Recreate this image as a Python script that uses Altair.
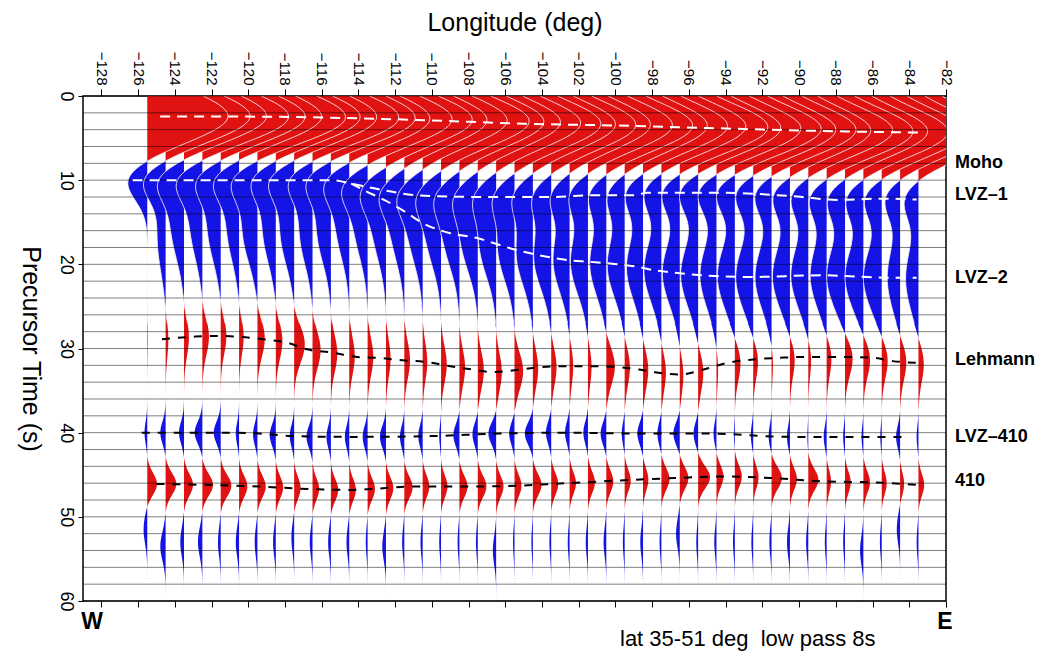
import altair as alt
import numpy as np
import pandas as pd

FONT = "Liberation Sans"
RED = "#e01212"
BLUE = "#1414e6"

# ---- trace longitudes (one wiggle per degree) ----
trace_lon = [-125.5, -124.5, -123.5, -122.5, -121.5, -120.5, -119.5, -118.5, -117.5, -116.5,
             -115.5, -114.5, -113.5, -112.5, -111.5, -110.5, -109.5, -108.5, -107.5, -106.5,
             -105.5, -104.5, -103.5, -102.5, -101.5, -100.5, -99.5, -98.5, -97.5, -96.5,
             -95.5, -94.5, -93.5, -92.5, -91.5, -90.5, -89.5, -88.5, -87.5, -86.5,
             -85.5, -84.5, -83.5]

# ---- per-trace arrivals (s) and amplitudes (deg of offset) ----
moho_t = [2.4, 2.4, 2.4, 2.45, 2.45, 2.45, 2.5, 2.5, 2.5, 2.55, 2.6, 2.7, 2.75, 2.8, 2.85,
          2.9, 3.0, 3.05, 3.1, 3.2, 3.3, 3.35, 3.4, 3.4, 3.45, 3.5, 3.5, 3.55, 3.6, 3.7,
          3.8, 3.85, 3.9, 4.0, 4.0, 4.1, 4.1, 4.2, 4.2, 4.25, 4.3, 4.3, 4.35]
moho_a = [4.4, 4.6, 4.5, 4.7, 4.6, 4.5, 4.8, 4.6, 4.5, 4.7, 4.6, 4.4, 4.6, 4.7, 4.5,
          4.6, 4.8, 4.6, 4.5, 4.6, 4.7, 4.5, 4.6, 4.4, 4.6, 4.7, 4.5, 4.6, 4.6, 4.8,
          4.5, 4.6, 4.7, 4.5, 4.6, 4.4, 4.6, 4.7, 4.5, 4.6, 4.5, 4.4, 4.3]

lvz1_t = [10.0, 10.0, 10.0, 10.0, 10.0, 10.0, 10.0, 10.0, 10.0, 10.0, 10.0, 10.3, 10.8, 11.3, 11.6,
          11.8, 11.9, 12.0, 12.0, 12.0, 12.0, 12.0, 12.0, 11.9, 11.8, 11.8, 11.8, 11.6, 11.5, 11.5,
          11.5, 11.5, 11.5, 11.6, 11.7, 11.9, 12.0, 12.2, 12.3, 12.3, 12.2, 12.2, 12.3]
lvz1_a = [-1.15, -1.2, -1.25, -1.25, -1.2, -1.25, -1.25, -1.2, -1.25, -1.2, -1.2, -1.15, -1.1, -1.05, -1.0,
          -1.0, -0.95, -0.95, -0.95, -0.95, -0.95, -0.95, -0.9, -0.95, -0.95, -0.9, -0.9, -0.95, -0.95, -1.0,
          -1.05, -1.05, -1.05, -1.0, -0.95, -0.95, -0.95, -0.95, -0.95, -0.95, -0.95, -0.85, -0.8]

lvz2_t = [15.5, 17.0, 15.5, 15.5, 15.8, 15.8, 16.0, 16.0, 16.2, 16.2, 16.0, 15.5, 15.5, 15.8, 16.0,
          16.2, 16.4, 16.6, 17.0, 17.6, 18.1, 18.7, 19.1, 19.5, 19.7, 19.9, 20.1, 20.4, 20.7, 21.0,
          21.2, 21.3, 21.4, 21.5, 21.5, 21.4, 21.3, 21.3, 21.4, 21.5, 21.6, 21.6, 21.7]
lvz2_a = [0.0, -0.45, -0.7, -0.65, -0.7, -0.65, -0.8, -0.7, -0.75, -0.7, -0.75, -0.7, -0.7, -0.7, -0.7,
          -0.75, -0.8, -0.85, -0.9, -0.9, -0.9, -0.9, -0.95, -0.9, -0.95, -0.9, -0.95, -0.9, -0.95, -0.95,
          -0.95, -0.9, -0.95, -0.95, -0.9, -0.95, -0.95, -0.9, -1.0, -1.0, -1.0, -0.7, -0.7]

leh_t = [28.9, 28.9, 28.7, 28.6, 28.5, 28.6, 28.8, 29.1, 29.5, 30.2, 30.6, 30.9, 31.0, 31.2, 31.4,
         31.6, 31.9, 32.3, 32.6, 32.8, 32.7, 32.4, 32.2, 32.1, 32.1, 32.1, 32.2, 32.5, 32.8, 33.1,
         32.8, 32.2, 31.6, 31.3, 31.2, 31.1, 31.0, 31.0, 31.0, 31.1, 31.2, 31.5, 31.7]
leh_a = [0.03, 0.15, 0.27, 0.36, 0.31, 0.25, 0.4, 0.36, 0.58, 0.44, 0.35, 0.3, 0.31, 0.25, 0.31,
         0.25, 0.31, 0.31, 0.33, 0.31, 0.47, 0.29, 0.29, 0.2, 0.2, 0.47, 0.29, 0.29, 0.25, 0.2,
         0.29, 0.1, 0.33, 0.29, 0.1, 0.29, 0.18, 0.29, 0.45, 0.4, 0.36, 0.36, 0.31]

v410_t = [40.0, 40.0, 40.0, 40.0, 40.0, 40.1, 40.2, 40.3, 40.4, 40.5, 40.5, 40.5, 40.5, 40.5, 40.5,
          40.4, 40.4, 40.3, 40.2, 40.1, 40.1, 40.1, 40.0, 40.0, 40.0, 40.1, 40.1, 40.1, 40.1, 40.1,
          40.1, 40.1, 40.2, 40.3, 40.4, 40.5, 40.5, 40.5, 40.5, 40.5, 40.5, 40.5, 40.5]
v410_a = [-0.15, -0.29, -0.27, -0.42, -0.38, -0.18, -0.24, -0.33, -0.24, -0.33, -0.24, -0.24, -0.27, -0.33, -0.24,
          -0.24, -0.1, -0.33, -0.29, -0.42, -0.29, -0.44, -0.29, -0.25, -0.25, -0.31, -0.16, -0.31, -0.22, -0.35,
          -0.25, -0.16, -0.05, -0.13, -0.16, -0.16, -0.05, -0.16, -0.1, -0.1, -0.08, -0.22, -0.1]

d410_t = [46.1, 46.1, 46.2, 46.2, 46.3, 46.4, 46.4, 46.5, 46.6, 46.7, 46.8, 46.8, 46.7, 46.6, 46.5,
          46.4, 46.4, 46.4, 46.4, 46.4, 46.3, 46.2, 46.1, 46.0, 45.9, 45.8, 45.7, 45.6, 45.5, 45.4,
          45.3, 45.2, 45.2, 45.3, 45.4, 45.5, 45.6, 45.8, 45.9, 45.9, 46.0, 46.1, 46.2]
d410_a = [0.53, 0.58, 0.49, 0.58, 0.58, 0.45, 0.45, 0.4, 0.35, 0.36, 0.4, 0.36, 0.4, 0.4, 0.45,
          0.36, 0.35, 0.44, 0.47, 0.4, 0.38, 0.47, 0.38, 0.35, 0.38, 0.38, 0.33, 0.29, 0.44, 0.47,
          0.65, 0.38, 0.38, 0.29, 0.56, 0.38, 0.55, 0.24, 0.31, 0.36, 0.27, 0.22, 0.31]

late_t = [51.5, 53.5, 53.0, 53.0, 53.0, 53.0, 53.0, 53.0, 52.5, 53.0, 53.0, 53.0, 53.0, 53.5, 53.0,
          53.0, 53.0, 53.0, 53.0, 54.0, 53.0, 53.0, 53.0, 53.0, 53.0, 53.0, 53.0, 53.0, 53.0, 52.0,
          53.0, 53.0, 53.0, 53.0, 53.0, 53.0, 53.0, 53.0, 53.0, 54.0, 53.0, 51.5, 53.0]
late_a = [-0.2, -0.29, -0.2, -0.24, -0.15, -0.18, -0.15, -0.15, -0.15, -0.15, -0.15, -0.15, -0.1, -0.2, -0.12,
          -0.12, -0.1, -0.1, -0.1, -0.18, -0.08, -0.08, -0.1, -0.1, -0.12, -0.15, -0.1, -0.15, -0.1, -0.2,
          -0.1, -0.12, -0.1, -0.1, -0.12, -0.16, -0.12, -0.1, -0.1, -0.18, -0.1, -0.18, -0.1]

# pulse half-widths (s) of each phase
phase_width = {"moho": 2.8, "lvz1": 2.3, "lvz2": 3.8, "leh": 2.2, "v410": 1.3, "d410": 1.3, "late": 1.7}

# ---- picked phase lines ----
moho_line_lon = [-124.8, -120, -115, -110, -105, -100, -95, -90, -85, -83.5]
moho_line_t = [2.45, 2.45, 2.6, 2.9, 3.3, 3.5, 3.8, 4.1, 4.3, 4.35]
lvz1_line_lon = [-126.3, -120, -115.4, -114.4, -112.6, -110.8, -109, -106.8, -103.5, -101.4, -99, -98.3,
                 -94.3, -90.1, -87.9, -85.5, -83.6]
lvz1_line_t = [10.0, 10.0, 10.0, 10.4, 11.2, 11.8, 11.95, 12.0, 12.0, 11.8, 11.8, 11.5, 11.5, 11.95, 12.35,
               12.2, 12.3]
lvz2_line_lon = [-114.4, -113.7, -112.6, -111.5, -110.5, -109, -107.5, -106.6, -105.4, -104.2, -102.6,
                 -101.4, -100.3, -98.8, -97.9, -96.8, -92.6, -88.8, -85, -83.6]
lvz2_line_t = [10.4, 11.2, 12.35, 13.7, 15.1, 16.3, 16.9, 17.5, 18.3, 18.9, 19.5, 19.7, 19.9, 20.3, 20.7,
               21.0, 21.5, 21.3, 21.6, 21.6]
leh_line_lon = [-124.7, -123, -121.9, -120.5, -119.2, -117.9, -116.8, -115.4, -114.1, -113, -111.6, -110.3,
                -109, -107.8, -106.7, -105.2, -104, -102.6, -101.4, -99.9, -98.7, -97.9, -96.5, -95.2,
                -93.9, -92.5, -91, -89.6, -87.8, -86, -84.9, -83.6]
leh_line_t = [28.9, 28.6, 28.5, 28.6, 28.9, 29.3, 30.1, 30.5, 31.0, 31.1, 31.4, 31.6, 32.1, 32.5, 32.8,
              32.5, 32.2, 32.1, 32.1, 32.2, 32.5, 32.8, 33.1, 32.5, 31.7, 31.3, 31.1, 31.0, 31.0, 31.1,
              31.5, 31.7]
v410_line_lon = [-125.8, -123, -120.8, -119.4, -117.6, -114.8, -113.7, -109.9, -106.3, -102.6, -99, -95,
                 -90.5, -87.8, -84.1]
v410_line_t = [40.0, 40.0, 40.0, 40.1, 40.4, 40.5, 40.5, 40.4, 40.1, 40.0, 40.1, 40.1, 40.5, 40.5, 40.5]
d410_line_lon = [-125, -122.3, -119.4, -116.7, -114.3, -113.4, -110.8, -108.1, -105.4, -103.5, -101.7,
                 -99, -96.8, -94.1, -91.4, -88.6, -86, -83.6]
d410_line_t = [46.1, 46.2, 46.4, 46.7, 46.8, 46.7, 46.4, 46.4, 46.3, 46.1, 45.9, 45.6, 45.4, 45.2, 45.4,
               45.8, 45.9, 46.2]

# ---- labels / ticks ----
phase_names = ["Moho", "LVZ\u20131", "LVZ\u20132", "Lehmann", "LVZ\u2013410", "410"]
phase_label_t = [8.0, 11.8, 21.6, 31.4, 40.5, 45.8]
lon_ticks = list(range(-128, -81, 2))
time_ticks = [0, 10, 20, 30, 40, 50, 60]
grid_times = list(range(0, 61, 2))

# ---- build wiggle samples ----
T = np.round(np.arange(0, 60.0001, 0.2), 2)
phases = [("moho", moho_t, moho_a), ("lvz1", lvz1_t, lvz1_a), ("lvz2", lvz2_t, lvz2_a),
          ("leh", leh_t, leh_a), ("v410", v410_t, v410_a), ("d410", d410_t, d410_a),
          ("late", late_t, late_a)]
frames = []
for i, L in enumerate(trace_lon):
    amp = np.zeros_like(T)
    for name, tt, aa in phases:
        amp += aa[i] * np.exp(-0.5 * ((T - tt[i]) / phase_width[name]) ** 2)
    frames.append(pd.DataFrame({"lon": L, "t": T, "a": np.round(amp, 3)}))
waves = pd.concat(frames, ignore_index=True)

def line_df(name, lons, ts):
    return pd.DataFrame({"phase": name, "lon": lons, "t": ts})

white_lines = pd.concat([line_df("moho", moho_line_lon, moho_line_t),
                         line_df("lvz1", lvz1_line_lon, lvz1_line_t),
                         line_df("lvz2", lvz2_line_lon, lvz2_line_t)], ignore_index=True)
black_lines = pd.concat([line_df("leh", leh_line_lon, leh_line_t),
                         line_df("v410", v410_line_lon, v410_line_t),
                         line_df("d410", d410_line_lon, d410_line_t)], ignore_index=True)

xsc = alt.Scale(domain=[-129, -82], nice=False, zero=False)
ysc = alt.Scale(domain=[0, 60], reverse=True, nice=False, zero=False)

W, H = 863, 505

top_axis = alt.Axis(orient="top", values=lon_ticks, labelAngle=90, labelAlign="right",
                    labelBaseline="middle", labelFontSize=15, labelFont=FONT, labelColor="black",
                    labelPadding=4, tickSize=7, tickColor="black", tickWidth=1, domain=False, grid=False,
                    title="Longitude (deg)", titleFont=FONT, titleFontSize=25, titleFontWeight="normal",
                    titleColor="black", titleX=W / 2, titleY=-74, titleAlign="center",
                    titleBaseline="middle", titleAngle=0)
left_axis = alt.Axis(orient="left", values=time_ticks, labelAngle=90, labelAlign="center",
                     labelBaseline="top", labelFontSize=18, labelFont=FONT, labelColor="black",
                     labelPadding=4, tickSize=5, tickColor="black", domain=False, grid=False,
                     title="Precursor Time (s)", titleFont=FONT, titleFontSize=25,
                     titleFontWeight="normal", titleColor="black", titleAngle=90, titleX=-53,
                     titleY=H / 2, titleAlign="center", titleBaseline="middle")
bottom_axis = alt.Axis(orient="bottom", values=lon_ticks, labels=False, tickSize=6, tickColor="black",
                       domain=False, grid=False, title=None)

Y = alt.Y("t:Q", scale=ysc, axis=left_axis)

base = alt.Chart(waves)
red = base.transform_calculate(pos="datum.lon + max(datum.a, 0)").mark_area(
    orient="horizontal", color=RED, clip=True).encode(
    y=Y,
    x=alt.X("pos:Q", scale=xsc, axis=top_axis),
    x2="lon:Q",
    detail="lon:N")
blue = base.transform_calculate(neg="datum.lon + min(datum.a, 0)").mark_area(
    orient="horizontal", color=BLUE, clip=True).encode(
    y=Y,
    x=alt.X("neg:Q", scale=xsc, axis=None),
    x2="lon:Q",
    detail="lon:N")
outline = base.transform_filter("datum.t <= 27").transform_calculate(
    edge="datum.lon + datum.a").mark_line(color="#fff0f0", strokeWidth=1, opacity=0.85, clip=True).encode(
    y=Y,
    x=alt.X("edge:Q", scale=xsc, axis=None),
    detail="lon:N",
    order="t:Q")

grid = alt.Chart(pd.DataFrame({"t": grid_times})).mark_rule(
    color="black", opacity=0.5, strokeWidth=1).encode(y=Y)

wdash = alt.Chart(white_lines).mark_line(color="white", strokeWidth=2, strokeDash=[10, 7],
                                         interpolate="monotone", clip=True).encode(
    x=alt.X("lon:Q", scale=xsc, axis=bottom_axis),
    y=Y,
    detail="phase:N", order="lon:Q")
bdash = alt.Chart(black_lines).mark_line(color="black", strokeWidth=2, strokeDash=[8, 8],
                                         interpolate="monotone", clip=True).encode(
    x=alt.X("lon:Q", scale=xsc, axis=None),
    y=Y,
    detail="phase:N", order="lon:Q")

labels = alt.Chart(pd.DataFrame({"name": phase_names, "t": phase_label_t})).mark_text(
    align="left", baseline="middle", font=FONT, fontSize=18, fontWeight="bold", color="black").encode(
    x=alt.value(W + 9), y=Y, text="name:N")

corner = alt.Chart(pd.DataFrame({"txt": ["W", "E"], "px": [9, 862]})).mark_text(
    align="center", baseline="middle", font=FONT, fontSize=23, fontWeight="bold", color="black").encode(
    x=alt.X("px:Q", scale=None), y=alt.value(H + 21), text="txt:N")

note = alt.Chart(pd.DataFrame({"txt": ["lat 35-51 deg \u00a0low pass 8s"]})).mark_text(
    align="left", baseline="alphabetic", font=FONT, fontSize=22, color="black").encode(
    x=alt.value(537), y=alt.value(H + 45), text="txt:N")

chart = alt.layer(red, blue, outline, grid, wdash, bdash, labels, corner, note).properties(
    width=W, height=H,
    padding={"left": 75, "top": 88, "right": 94, "bottom": 50},
    autosize=alt.AutoSizeParams(type="none"),
    background="white",
).configure_view(stroke="black", strokeWidth=1.5)

chart.save("out.html", embed_options={"renderer": "svg", "actions": False})
